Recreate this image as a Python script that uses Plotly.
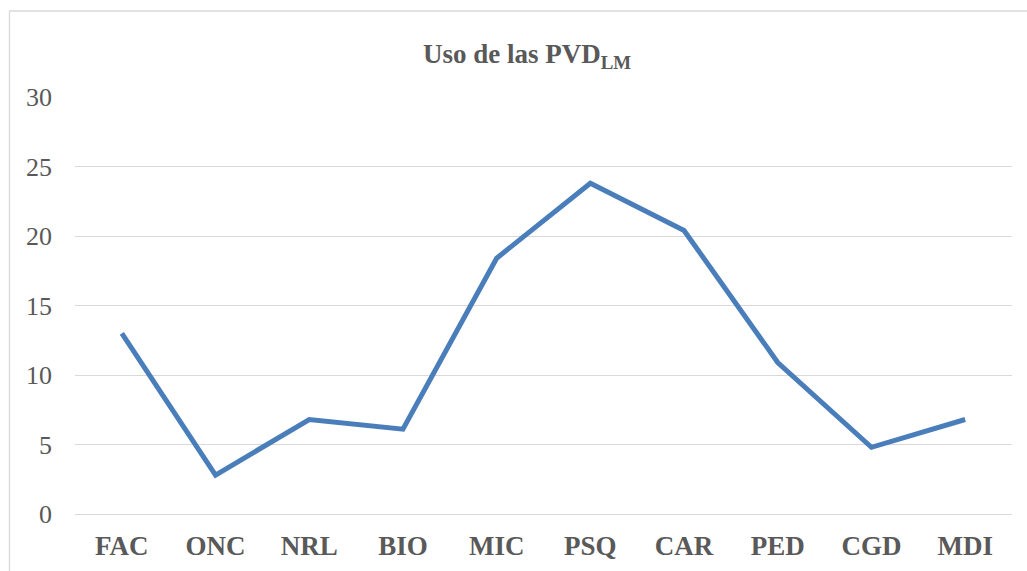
import plotly.graph_objects as go

categories = ["FAC", "ONC", "NRL", "BIO", "MIC", "PSQ", "CAR", "PED", "CGD", "MDI"]
values = [13.0, 2.8, 6.8, 6.1, 18.4, 23.8, 20.4, 10.9, 4.8, 6.8]
y_ticks = [0, 5, 10, 15, 20, 25, 30]

W, H = 1027, 571
L, R, T, B = 75, 15, 97, 57
pw, ph = W - L - R, H - T - B

fig = go.Figure()
fig.add_trace(go.Scatter(
    x=categories, y=values, mode="lines",
    line=dict(color="#4a7ebb", width=5),
    hoverinfo="x+y", showlegend=False,
))

font_family = "Liberation Serif, Times New Roman, serif"
grey = "#595959"

fig.update_layout(
    width=W, height=H,
    margin=dict(l=L, r=R, t=T, b=B, autoexpand=False),
    paper_bgcolor="white", plot_bgcolor="white",
    title=dict(
        text="<b>Uso de las PVD<sub>LM</sub></b>",
        x=527 / W, xanchor="center",
        y=1 - 54 / H, yanchor="middle",
        font=dict(family=font_family, size=27, color=grey),
    ),
    xaxis=dict(
        type="category", range=[-0.5, len(categories) - 0.5],
        showgrid=False, showline=False, zeroline=False, automargin=False,
        ticks="", ticklabelstandoff=13,
        tickfont=dict(family=font_family, size=27, color=grey, weight="bold"),
    ),
    yaxis=dict(
        range=[0, 30], tickvals=y_ticks, ticktext=[str(v) for v in y_ticks],
        showgrid=True, gridcolor="#d9d9d9", gridwidth=1.3,
        zeroline=True, zerolinecolor="#d9d9d9", zerolinewidth=1.3,
        showline=False, ticks="", ticklabelstandoff=22, automargin=False,
        tickfont=dict(family=font_family, size=26, color=grey),
    ),
    shapes=[dict(
        type="rect", xref="paper", yref="paper",
        x0=(9.5 - L) / pw, x1=1.2,
        y0=-0.5, y1=(H - B - 11) / ph,
        line=dict(color="#d9d9d9", width=1.3), fillcolor="rgba(0,0,0,0)",
        layer="below",
    )],
)

fig.write_html("out.html", config={"displayModeBar": False},
               post_script="document.body.style.margin='0';")
